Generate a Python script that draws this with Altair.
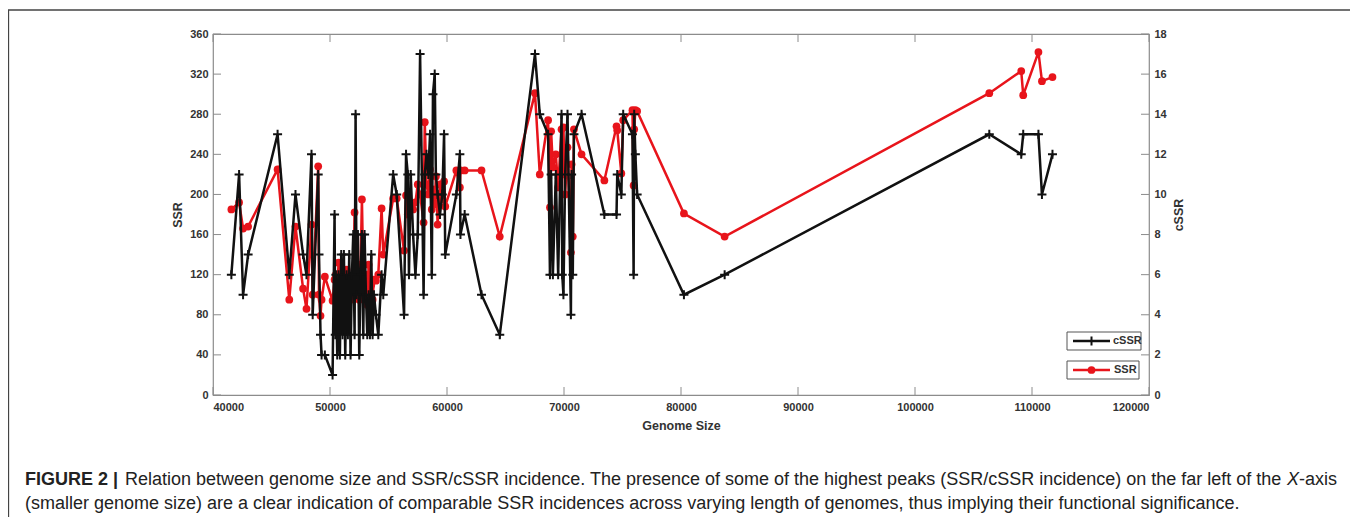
import altair as alt
import pandas as pd

# ---- data ----
genome_size = [
    41570, 42230, 42570, 43000, 45520, 46520, 47050, 47700, 47990, 48420,
    48520, 48990, 49060, 49190, 49280, 49560, 50220,
    50390, 50450, 50503, 50617, 50731, 50845, 50959, 51074, 51188, 51302,
    51416, 51530, 51644, 51758, 51873, 51987, 52101, 52187, 52272, 52386,
    52500, 52615, 52729, 52843, 52957, 53071, 53185, 53300, 53414, 53528,
    53642, 53756, 53927, 54127, 54410, 54553,
    55400, 55700, 56330, 56500, 56650, 56750, 56900, 57100, 57300, 57500,
    57700, 58000, 58100, 58250, 58400, 58550, 58700, 58800, 58950, 59050,
    59200, 59400, 59600, 59750, 59850,
    60800, 61100, 61150, 61510, 62950, 64510,
    67520, 67930, 68640, 68800, 68900, 69050, 69300, 69500, 69790, 69850,
    69950, 70100, 70300, 70590, 70650, 70750, 70850, 71500,
    73450, 74490, 74550, 74900, 75060, 75850, 75950, 76000, 76100, 76250,
    80250, 83730,
    106350, 109080, 109250, 110550, 110850, 111750,
]
ssr_values = [
    185, 192, 166, 168, 225, 95, 168, 106, 86, 170,
    100, 228, 100, 79, 95, 118, 94,
    115, 95, 120, 100, 132, 110, 118, 95, 112, 100,
    125, 105, 118, 95, 110, 100, 182, 120, 105, 100,
    95, 130, 195, 120, 100, 120, 90, 130, 100, 110,
    95, 115, 114, 120, 186, 140,
    196, 196, 144, 199, 180, 182, 190, 185, 192, 210,
    200, 172, 272, 210, 200, 225, 185, 205, 190, 218,
    170, 210, 195, 213, 188,
    224, 207, 224, 224, 224, 158,
    301, 220, 274, 187, 263, 227, 240, 207, 265, 220,
    267, 200, 247, 142, 230, 158, 265, 240,
    214, 268, 264, 221, 274, 284, 209, 265, 284, 283,
    181, 158,
    301, 323, 299, 342, 313, 317,
]
cssr_values = [
    6, 11, 5, 7, 13, 6, 10, 7, 6, 12,
    4, 11, 7, 3, 2, 2, 1,
    9, 3, 6, 2, 6, 2, 7, 3, 7, 2,
    6, 3, 7, 2, 6, 8, 3, 14, 5, 8,
    2, 6, 8, 3, 8, 5, 3, 5, 3, 7,
    3, 5, 4, 3, 6, 5,
    11, 10, 4, 12, 11, 6, 11, 8, 6, 8,
    17, 5, 11, 12, 11, 13, 6, 15, 16, 11,
    10, 9, 10, 13, 7,
    10, 12, 8, 9, 5, 3,
    17, 14, 13, 6, 11, 6, 11, 6, 14, 6,
    5, 11, 14, 4, 11, 6, 13, 14,
    9, 9, 11, 10, 14, 13, 6, 14, 12, 10,
    5, 6,
    13, 12, 13, 13, 10, 12,
]
x_ticks = [40000, 50000, 60000, 70000, 80000, 90000, 100000, 110000, 120000]
ssr_ticks = [0, 40, 80, 120, 160, 200, 240, 280, 320, 360]
cssr_ticks = [0, 2, 4, 6, 8, 10, 12, 14, 16, 18]

caption_bold = "FIGURE 2 |"
caption_line1 = ("Relation between genome size and SSR/cSSR incidence. The presence of some "
                 "of the highest peaks (SSR/cSSR incidence) on the far left of the")
caption_italic = "X"
caption_line1_end = "-axis"
caption_line2 = ("(smaller genome size) are a clear indication of comparable SSR incidences "
                 "across varying length of genomes, thus implying their functional significance.")

df = pd.DataFrame({"g": genome_size, "ssr": ssr_values, "cssr": cssr_values})
xt = pd.DataFrame({"v": x_ticks})
yt = pd.DataFrame({"v": ssr_ticks})
one = pd.DataFrame({"a": [0]})

W, H = 936, 361
RED = "#e8141b"
BLACK = "#111111"
GRAY = "#8c8c8c"
FONT = "Liberation Sans"
TXT = "#222222"

xscale = alt.Scale(domain=[40000, 120000], nice=False, zero=False)
xaxis = alt.Axis(values=x_ticks, format="d", title="Genome Size", labelPadding=6,
                 titlePadding=7, orient="bottom")
yscale = alt.Scale(domain=[0, 360], nice=False)
yaxis = alt.Axis(values=ssr_ticks, title="SSR", labelPadding=5, titlePadding=5, orient="left")
y2scale = alt.Scale(domain=[0, 18], nice=False)
y2axis = alt.Axis(values=cssr_ticks, title="cSSR", labelPadding=5, titlePadding=6,
                  orient="right", titleAngle=270, titleBaseline="top")

ssr_line = alt.Chart(df).mark_line(
    color=RED, strokeWidth=2.5,
    point=alt.OverlayMarkDef(filled=True, fill=RED, color=RED, size=60, opacity=1),
).encode(
    x=alt.X("g:Q", scale=xscale, axis=xaxis),
    y=alt.Y("ssr:Q", scale=yscale, axis=yaxis),
)

x_ticks_bottom = alt.Chart(xt).mark_rule(color=GRAY, strokeWidth=1).encode(
    x=alt.X("v:Q", scale=xscale, axis=xaxis), y=alt.value(H), y2=alt.value(H - 8))
x_ticks_top = alt.Chart(xt).mark_rule(color=GRAY, strokeWidth=1).encode(
    x=alt.X("v:Q", scale=xscale, axis=xaxis), y=alt.value(0), y2=alt.value(8))
y_ticks_left = alt.Chart(yt).mark_rule(color=GRAY, strokeWidth=1).encode(
    y=alt.Y("v:Q", scale=yscale, axis=yaxis), x=alt.value(0), x2=alt.value(8))
y_ticks_right = alt.Chart(yt).mark_rule(color=GRAY, strokeWidth=1).encode(
    y=alt.Y("v:Q", scale=yscale, axis=yaxis), x=alt.value(W - 8), x2=alt.value(W))

ssr_group = alt.layer(x_ticks_bottom, x_ticks_top, y_ticks_left, y_ticks_right, ssr_line)

cssr_line = alt.Chart(df).mark_line(
    color=BLACK, strokeWidth=2.5,
    point=alt.OverlayMarkDef(shape="M-1,0L1,0M0,-1L0,1", filled=False, stroke=BLACK,
                             strokeWidth=2, size=81, opacity=1),
).encode(
    x=alt.X("g:Q", scale=xscale, axis=xaxis),
    y=alt.Y("cssr:Q", scale=y2scale, axis=y2axis),
)

# ---- decorations: figure frame, legend boxes, caption ----
frame = alt.Chart(one).mark_rect(fillOpacity=0, stroke="#444444", strokeWidth=1.3).encode(
    x=alt.value(-204.5), x2=alt.value(1141), y=alt.value(-24), y2=alt.value(540))

box1 = alt.Chart(one).mark_rect(fill="white", stroke="#555555", strokeWidth=1).encode(
    x=alt.value(854), x2=alt.value(928), y=alt.value(298), y2=alt.value(316))
box2 = alt.Chart(one).mark_rect(fill="white", stroke="#555555", strokeWidth=1).encode(
    x=alt.value(854), x2=alt.value(926), y=alt.value(327), y2=alt.value(345))
leg_line1 = alt.Chart(one).mark_rule(color=BLACK, strokeWidth=2.5).encode(
    x=alt.value(860), x2=alt.value(897), y=alt.value(307))
leg_pt1 = alt.Chart(one).mark_point(shape="M-1,0L1,0M0,-1L0,1", filled=False, stroke=BLACK,
                                    strokeWidth=2, size=81, opacity=1).encode(
    x=alt.value(878.5), y=alt.value(307))
leg_txt1 = alt.Chart(one).mark_text(text="cSSR", align="left", baseline="middle", font=FONT,
                                    fontSize=11, fontWeight="bold", color="#333333").encode(
    x=alt.value(900), y=alt.value(307))
leg_line2 = alt.Chart(one).mark_rule(color=RED, strokeWidth=2.5).encode(
    x=alt.value(860), x2=alt.value(897), y=alt.value(336))
leg_pt2 = alt.Chart(one).mark_point(shape="circle", filled=True, fill=RED, color=RED,
                                    size=60, opacity=1).encode(
    x=alt.value(878.5), y=alt.value(336))
leg_txt2 = alt.Chart(one).mark_text(text="SSR", align="left", baseline="middle", font=FONT,
                                    fontSize=11, fontWeight="bold", color="#333333").encode(
    x=alt.value(901), y=alt.value(336))

CAP = 18
CY1, CY2 = 446, 470
cap_b = alt.Chart(one).mark_text(text=caption_bold, align="left", baseline="middle", font=FONT,
                                 fontSize=CAP, fontWeight="bold", color=TXT).encode(
    x=alt.value(-188), y=alt.value(CY1))
cap_1 = alt.Chart(one).mark_text(text=caption_line1, align="left", baseline="middle", font=FONT,
                                 fontSize=CAP, color=TXT).encode(
    x=alt.value(-88), y=alt.value(CY1))
cap_i = alt.Chart(one).mark_text(text=caption_italic, align="left", baseline="middle", font=FONT,
                                 fontSize=CAP, fontStyle="italic", color=TXT).encode(
    x=alt.value(1074), y=alt.value(CY1))
cap_1e = alt.Chart(one).mark_text(text=caption_line1_end, align="left", baseline="middle",
                                  font=FONT, fontSize=CAP, color=TXT).encode(
    x=alt.value(1086), y=alt.value(CY1))
cap_2 = alt.Chart(one).mark_text(text=caption_line2, align="left", baseline="middle", font=FONT,
                                 fontSize=CAP, color=TXT).encode(
    x=alt.value(-188), y=alt.value(CY2))

deco = alt.layer(frame, box1, box2, leg_line1, leg_pt1, leg_txt1, leg_line2, leg_pt2, leg_txt2,
                 cap_b, cap_1, cap_i, cap_1e, cap_2)

chart = alt.layer(ssr_group, cssr_line, deco).resolve_scale(y="independent").properties(
    width=W, height=H,
    padding={"left": 205, "top": 26, "right": 201, "bottom": 122},
    autosize=alt.AutoSizeParams(type="none"),
).configure_axis(
    labelFont=FONT, labelFontWeight="bold", labelFontSize=11, labelColor="#333333",
    titleFont=FONT, titleFontWeight="bold", titleFontSize=12.5, titleColor="#333333",
    domain=False, ticks=False, grid=False,
).configure_view(stroke=GRAY, strokeWidth=1.2)

chart.save("out.html", embed_options={"renderer": "svg", "actions": False})
